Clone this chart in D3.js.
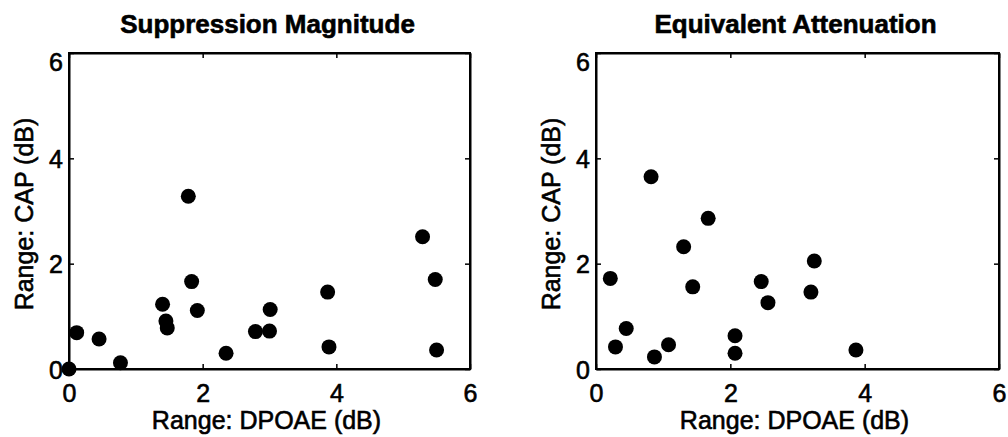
<!DOCTYPE html>
<html>
<head>
<meta charset="utf-8">
<script src="https://cdn.jsdelivr.net/npm/d3@7"></script>
<style>
  html, body { margin: 0; padding: 0; background: #fff; }
  svg { display: block; }
  text { font-family: "Liberation Sans", Arial, sans-serif; fill: #000; stroke: #000; stroke-width: 0.6px; }
</style>
</head>
<body>
<svg id="chart" width="1008" height="437"></svg>
<script>
// ---- Data ----
const panelTitles = ["Suppression Magnitude", "Equivalent Attenuation"];
const xLabel = "Range: DPOAE (dB)";
const yLabel = "Range: CAP (dB)";
const tickValues = [0, 2, 4, 6];

const suppressionDPOAE = [0.0, 0.115, 0.45, 0.77, 1.40, 1.45, 1.47, 1.785, 1.835, 1.92, 2.35, 2.79, 3.00, 3.01, 3.87, 3.89, 5.29, 5.48, 5.50];
const suppressionCAP   = [0.0, 0.69, 0.57, 0.12, 1.23, 0.91, 0.78, 3.28, 1.66, 1.11, 0.30, 0.71, 0.72, 1.13, 1.46, 0.42, 2.51, 1.70, 0.36];

const attenuationDPOAE = [0.213, 0.29, 0.45, 0.82, 0.87, 1.08, 1.305, 1.44, 1.67, 2.07, 2.07, 2.46, 2.56, 3.20, 3.25, 3.87];
const attenuationCAP   = [1.72, 0.42, 0.77, 3.65, 0.23, 0.46, 2.32, 1.56, 2.86, 0.63, 0.30, 1.66, 1.26, 1.46, 2.05, 0.36];

(function () {
  const panels = [
    { title: panelTitles[0], xs: suppressionDPOAE, ys: suppressionCAP, left: 69, width: 401 },
    { title: panelTitles[1], xs: attenuationDPOAE, ys: attenuationCAP, left: 596, width: 403 }
  ];

  const svg = d3.select("#chart");
  const plotTop = 53, plotHeight = 316;
  const tickLen = 5;

  panels.forEach(p => {
    const x = d3.scaleLinear().domain([0, 6]).range([0, p.width]);
    const y = d3.scaleLinear().domain([0, 6]).range([plotHeight, 0]);
    const g = svg.append("g").attr("transform", `translate(${p.left},${plotTop})`);

    // frame
    g.append("rect").attr("x", 0).attr("y", 0).attr("width", p.width).attr("height", plotHeight)
      .attr("fill", "none").attr("stroke", "#000").attr("stroke-width", 2);

    // axes with inward ticks
    const axB = g.append("g").attr("transform", `translate(0,${plotHeight})`)
      .call(d3.axisBottom(x).tickValues(tickValues).tickSizeInner(-tickLen).tickSizeOuter(0).tickFormat(d3.format("d")));
    const axL = g.append("g")
      .call(d3.axisLeft(y).tickValues(tickValues).tickSizeInner(-tickLen).tickSizeOuter(0).tickFormat(d3.format("d")));
    const axT = g.append("g")
      .call(d3.axisTop(x).tickValues(tickValues).tickSizeInner(-tickLen).tickSizeOuter(0).tickFormat(""));
    const axR = g.append("g").attr("transform", `translate(${p.width},0)`)
      .call(d3.axisRight(y).tickValues(tickValues).tickSizeInner(-tickLen).tickSizeOuter(0).tickFormat(""));

    [axB, axL, axT, axR].forEach(a => {
      a.select(".domain").attr("stroke", "#000").attr("stroke-width", 2);
      a.selectAll(".tick line").attr("stroke", "#000").attr("stroke-width", 1.5);
      a.selectAll("text").attr("font-size", 25).attr("font-family", "'Liberation Sans', Arial, sans-serif")
        .attr("fill", "#000").attr("stroke", "#000").attr("stroke-width", 0.6);
    });
    axB.selectAll(".tick text").attr("y", 33).attr("dy", null);
    axL.selectAll(".tick text").attr("x", -6).attr("dy", "0.36em")
      .attr("transform", d => d === 6 ? "translate(0,8)" : null);

    // points
    g.append("g").selectAll("circle").data(p.xs.map((v, i) => [v, p.ys[i]])).enter()
      .append("circle")
      .attr("cx", d => x(d[0])).attr("cy", d => y(d[1])).attr("r", 7.5)
      .attr("fill", "#000");

    // title
    g.append("text").attr("x", p.width / 2 - 2).attr("y", -20)
      .attr("text-anchor", "middle").attr("font-size", 26).attr("font-weight", "bold")
      .text(p.title);

    // x label
    g.append("text").attr("x", p.width / 2 - 3).attr("y", plotHeight + 60)
      .attr("text-anchor", "middle").attr("font-size", 25).text(xLabel);

    // y label
    g.append("text").attr("transform", `translate(-36,${plotHeight / 2 + 3}) rotate(-90)`)
      .attr("text-anchor", "middle").attr("font-size", 25).text(yLabel);
  });
})();
</script>
</body>
</html>
